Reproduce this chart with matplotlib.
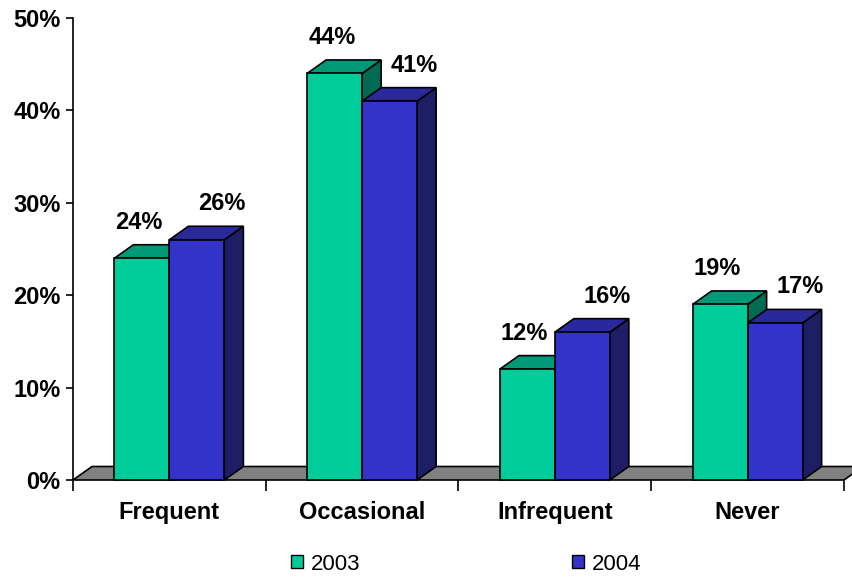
"""Survey response frequency, 2003 vs 2004, drawn as pseudo-3D column chart."""
import matplotlib
matplotlib.use("Agg")
import matplotlib.pyplot as plt
from matplotlib.patches import Polygon, Patch

plt.rcParams["font.family"] = ["Liberation Sans", "DejaVu Sans"]

categories = ["Frequent", "Occasional", "Infrequent", "Never"]
years = ["2003", "2004"]
values_2003 = [24, 44, 12, 19]
values_2004 = [26, 41, 16, 17]
y_ticks = [0, 10, 20, 30, 40, 50]

# face / top / side shades for each series
shades = {
    "2003": ("#00CC99", "#009977", "#006B52"),
    "2004": ("#3333CC", "#29299C", "#1E1E66"),
}

fig = plt.figure(figsize=(8.53, 5.78), dpi=100)
ax = fig.add_axes([73 / 853, 98 / 578, 771 / 853, 462 / 578])
ax.set_xlim(0, len(categories))
ax.set_ylim(0, 50)

# depth of the extrusion, given in pixels and converted to data units
ax_w = 771 / len(categories)
ax_h = 462 / 50
dx = 19 / ax_w
dy = 13.5 / ax_h
bar_w = 55 / ax_w

# floor slab
floor = Polygon([(0, 0), (len(categories), 0), (len(categories) + dx, dy), (dx, dy)],
                closed=True, facecolor="#808080", edgecolor="black", lw=1.2,
                clip_on=False, zorder=1)
ax.add_patch(floor)


def draw_bar(x0, h, colors, z):
    face, top, side = colors
    kw = dict(closed=True, edgecolor="black", lw=1.2, clip_on=False, zorder=z,
              joinstyle="miter")
    x1 = x0 + bar_w
    ax.add_patch(Polygon([(x1, 0), (x1 + dx, dy), (x1 + dx, h + dy), (x1, h)],
                         facecolor=side, **kw))
    ax.add_patch(Polygon([(x0, h), (x1, h), (x1 + dx, h + dy), (x0 + dx, h + dy)],
                         facecolor=top, **kw))
    ax.add_patch(Polygon([(x0, 0), (x1, 0), (x1, h), (x0, h)],
                         facecolor=face, **kw))


label_shift = {"2003": -2, "2004": 18}
z = 2
for i, cat in enumerate(categories):
    for j, (yr, vals) in enumerate(zip(years, [values_2003, values_2004])):
        x0 = i + 0.5 - bar_w + j * bar_w
        draw_bar(x0, vals[i], shades[yr], z)
        z += 1
        ax.annotate(f"{vals[i]}%", (x0 + bar_w / 2, vals[i]),
                    xytext=(label_shift[yr], 26), textcoords="offset points",
                    ha="center", va="center", fontsize=17, fontweight="bold",
                    zorder=20, annotation_clip=False)

for s in ["top", "right", "bottom"]:
    ax.spines[s].set_visible(False)
ax.spines["left"].set_linewidth(1.2)
ax.spines["left"].set_zorder(15)

ax.set_yticks(y_ticks)
ax.set_yticklabels([f"{t}%" for t in y_ticks], fontsize=17, fontweight="bold")
ax.tick_params(axis="y", length=5, width=1.2, pad=4)

ax.set_xticks(range(len(categories) + 1))
ax.set_xticklabels([])
ax.tick_params(axis="x", which="major", length=8, width=1.2)
ax.set_xticks([i + 0.5 for i in range(len(categories))], minor=True)
ax.set_xticklabels(categories, minor=True, fontsize=17, fontweight="bold")
ax.tick_params(axis="x", which="minor", length=0, pad=15)

handles = [Patch(facecolor=shades[yr][0], edgecolor="black", lw=1) for yr in years]
fig.legend(handles, years, loc="center", bbox_to_anchor=(466 / 853, 1 - 564 / 578),
           ncol=2, frameon=False, fontsize=16, handlelength=0.55, handleheight=0.55,
           handletextpad=0.36, columnspacing=9.5)

fig.savefig("out.png", dpi=100)
